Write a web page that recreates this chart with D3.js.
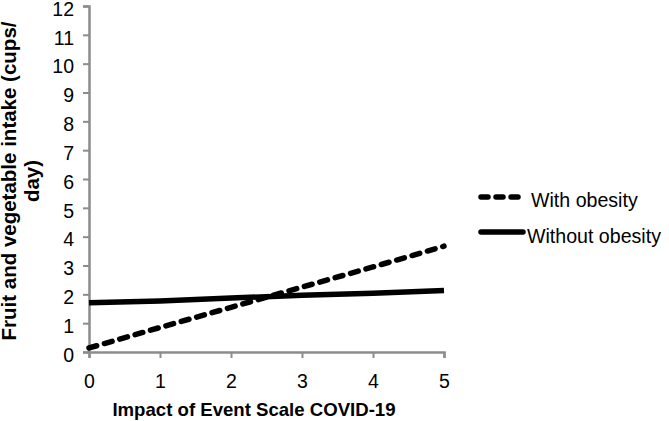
<!DOCTYPE html>
<html><head><meta charset="utf-8">
<script src="https://cdn.jsdelivr.net/npm/d3@7"></script>
<style>body{margin:0;background:#fff}svg{display:block}text{font-family:"Liberation Sans",Arial,sans-serif}</style>
</head><body><svg id="c" width="669" height="421"></svg>
<script>
const xTicks = [0,1,2,3,4,5];
const yTicks = [0,1,2,3,4,5,6,7,8,9,10,11,12];
const impact = [0,1,2,3,4,5];
const withObesity = [0.14,0.85,1.55,2.25,2.95,3.67];
const withoutObesity = [1.71,1.77,1.87,1.97,2.04,2.13];
const seriesNames = ["With obesity","Without obesity"];

const svg = d3.select("#c");
const x = d3.scaleLinear().domain([0,5]).range([89,444]);
const y = d3.scaleLinear().domain([0,12]).range([352,6]);
const axisColor = "#8c8c8c";
const font = "'Liberation Sans',Arial,sans-serif";

const gx = svg.append("g").attr("transform","translate(0,352)")
  .call(d3.axisBottom(x).tickValues(xTicks).tickSize(6).tickPadding(16).tickFormat(d3.format("d")));
const gy = svg.append("g").attr("transform","translate(89,0)")
  .call(d3.axisLeft(y).tickValues(yTicks).tickSize(6).tickPadding(9).tickFormat(d3.format("d")));
[gx,gy].forEach(g=>{
  g.select(".domain").attr("stroke",axisColor).attr("stroke-width",2.5);
  g.selectAll(".tick line").attr("stroke",axisColor).attr("stroke-width",2);
  g.selectAll(".tick text").attr("fill","#000").style("font-size","19.5px").style("font-family",font);
});
gy.selectAll(".tick text").attr("dy","0.47em");

const line = d3.line().x((d,i)=>x(impact[i])).y(d=>y(d));
svg.append("path").datum(withoutObesity).attr("d",line)
  .attr("fill","none").attr("stroke","#000").attr("stroke-width",5.5);
svg.append("path").datum(withObesity).attr("d",line)
  .attr("fill","none").attr("stroke","#000").attr("stroke-width",5.5)
  .attr("stroke-dasharray","8,8").attr("stroke-linecap","round");

// axis titles
svg.append("text").attr("x",254).attr("y",416).attr("text-anchor","middle")
  .style("font-size","18.6px").style("font-weight","bold").text("Impact of Event Scale COVID-19");
const yt = svg.append("text").attr("transform","translate(0,181) rotate(-90)")
  .attr("text-anchor","middle").style("font-size","20.5px").style("font-weight","bold");
yt.append("tspan").attr("x",0).attr("y",16).text("Fruit and vegetable intake (cups/");
yt.append("tspan").attr("x",0).attr("y",39).text("day)");

// legend
const leg = svg.append("g");
leg.append("line").attr("x1",481).attr("x2",520).attr("y1",197).attr("y2",197)
  .attr("stroke","#000").attr("stroke-width",5.5).attr("stroke-dasharray","7,8").attr("stroke-linecap","round");
leg.append("text").attr("x",531).attr("y",207).style("font-size","19.6px").text(seriesNames[0]);
leg.append("line").attr("x1",481).attr("x2",523).attr("y1",232).attr("y2",232)
  .attr("stroke","#000").attr("stroke-width",5.5).attr("stroke-linecap","round");
leg.append("text").attr("x",527).attr("y",243).style("font-size","19.6px").text(seriesNames[1]);
</script></body></html>
